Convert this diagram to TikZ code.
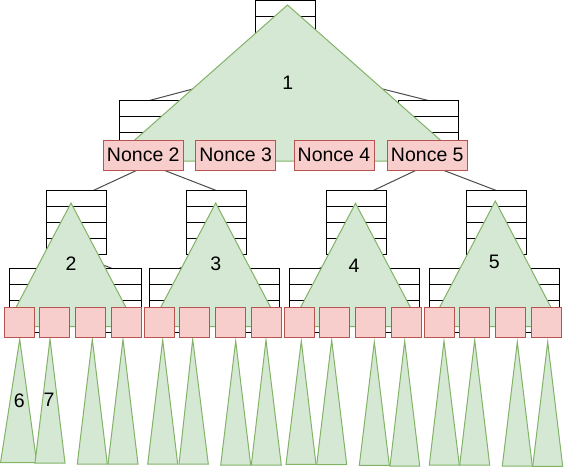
\documentclass[tikz,border=0pt]{standalone}
\usepackage{fontspec}
\setmainfont{Liberation Sans}
\definecolor{tfill}{HTML}{D5E8D4}
\definecolor{tstroke}{HTML}{82B366}
\definecolor{nfill}{HTML}{F8CECC}
\definecolor{nstroke}{HTML}{B85450}
\newcommand\nodefontsz{\fontsize{19.5}{23}\selectfont}
\pgfdeclarelayer{bg}
\pgfsetlayers{bg,main}
\begin{document}
\begin{tikzpicture}[x=1pt,y=-1pt,
  stack/.style={draw=black, fill=white, line width=1pt, minimum width=60pt, minimum height=64pt,
    inner sep=0pt, outer sep=0pt, anchor=north west,
    path picture={\foreach \k in {1,2,3}{\draw[line width=1pt] ([yshift=-\k*16pt]path picture bounding box.north west) -- ([yshift=-\k*16pt]path picture bounding box.north east);}}},
  nonce/.style={draw=nstroke, fill=nfill, line width=1pt, minimum width=80pt, minimum height=30pt,
    inner sep=0pt, outer sep=0pt, anchor=north west, font=\nodefontsz},
  leaf/.style={draw=nstroke, fill=nfill, line width=1pt, minimum width=30pt, minimum height=30pt,
    inner sep=0pt, outer sep=0pt, anchor=north west},
  tri/.style={draw=tstroke, fill=tfill, line width=1pt, line join=miter},
  edge/.style={draw=black!70, line width=1pt},
  lbl/.style={font=\nodefontsz, inner sep=0pt}
]
\useasboundingbox (0,0) rectangle (564,467);

% stacks
\node[stack] (top) at (255.5,0.5) {};
\node[stack] (la) at (119.3,100.5) {};
\node[stack] (lb) at (398.3,100.5) {};
\node[stack] (ma) at (46.3,190.5) {};
\node[stack] (mb) at (186.3,190.5) {};
\node[stack] (mc) at (326.3,190.5) {};
\node[stack] (md) at (466.3,190.5) {};
\node[stack] (c1) at (9.3,268.3) {};
\node[stack] (d1) at (81.7,268.3) {};
\node[stack] (c2) at (149.3,268.3) {};
\node[stack] (d2) at (219.7,268.3) {};
\node[stack] (c3) at (289.3,268.3) {};
\node[stack] (d3) at (359.3,268.3) {};
\node[stack] (c4) at (429.3,268.3) {};
\node[stack] (d4) at (499.3,268.3) {};

% edges
\begin{pgfonlayer}{bg}
\draw[edge] (top.south) -- (la.north);
\draw[edge] (top.south) -- (lb.north);
\draw[edge] (la.south) -- ([xshift=17pt]ma.north);
\draw[edge] (la.south) -- (mb.north);
\draw[edge] (lb.south) -- ([xshift=17pt]mc.north);
\draw[edge] (lb.south) -- (md.north);
\draw[edge] (ma.south) -- (c1.north);
\draw[edge] (ma.south) -- (d1.north);
\draw[edge] (mb.south) -- (c2.north);
\draw[edge] (mb.south) -- (d2.north);
\draw[edge] (mc.south) -- (c3.north);
\draw[edge] (mc.south) -- (d3.north);
\draw[edge] (md.south) -- (c4.north);
\draw[edge] (md.south) -- (d4.north);
\end{pgfonlayer}

% big triangles
\draw[tri] (287.5,5) -- (464,161) -- (111,161) -- cycle;
\draw[tri] (71,203) -- (136,326.5) -- (6,326.5) -- cycle;
\draw[tri] (215.7,203) -- (280.7,326.5) -- (150.7,326.5) -- cycle;
\draw[tri] (355.5,203.3) -- (420.5,326.5) -- (290.5,326.5) -- cycle;
\draw[tri] (495.3,201) -- (561,326.5) -- (429.6,326.5) -- cycle;

% bottom triangles
\foreach \ax/\ay/\bl/\br/\by in {
  19.7/339.3/0.5/36.7/462.7, 50/339/35/65/463,
  92.3/339.3/77.3/107.3/464, 123/339.3/108/138/464,
  162.7/340/147.7/177.7/464, 192.7/339.3/179/208.3/464,
  235.7/341/220.7/250.7/465, 266/340/251.3/281.3/465,
  301.3/341/286/316/464.3, 331.7/340/316.7/346.7/464.5,
  374.3/342/359.3/389.3/465.3, 404.7/341/390/419.7/466,
  444/341/429.3/459.3/465, 474.7/340/459.7/489.7/465,
  517.3/342/502.3/532.3/466, 547.7/342/532.7/562.7/466.3}
  {\draw[tri] (\ax,\ay) -- (\br,\by) -- (\bl,\by) -- cycle;}

% nonces
\node[nonce] (n2) at (103.3,140) {Nonce 2};
\node[nonce] (n3) at (195.7,140) {Nonce 3};
\node[nonce] (n4) at (294,140) {Nonce 4};
\node[nonce] (n5) at (387.3,140) {Nonce 5};

% leaves
\foreach \g in {0,1,2,3}{
  \foreach \o [count=\i] in {4,39.3,75.3,111}{
    \node[leaf] (s\g\i) at (\o+140*\g,307.3) {};
  }
}

% labels
\node[lbl] (t1) at (287.7,82.7) {1};
\node[lbl] (t2) at (71,264) {2};
\node[lbl] (t3) at (215.7,264) {3};
\node[lbl] (t4) at (354,265.7) {4};
\node[lbl] (t5) at (494.3,262.3) {5};
\node[lbl] (t6) at (19.3,400.7) {6};
\node[lbl] (t7) at (49,400) {7};
\end{tikzpicture}
\end{document}
